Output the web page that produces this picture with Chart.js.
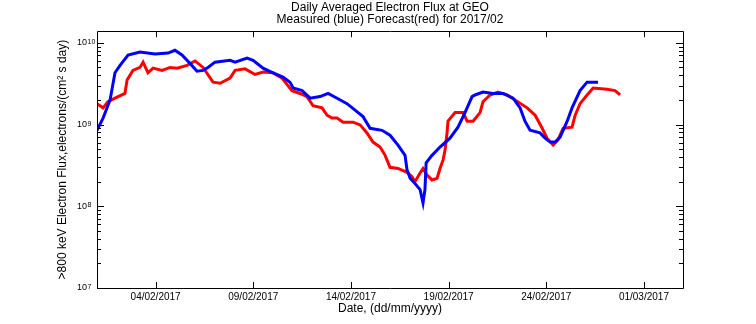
<!DOCTYPE html>
<html>
<head>
<meta charset="utf-8">
<script src="https://cdn.jsdelivr.net/npm/chart.js@4"></script>
<style>
  html, body { margin: 0; padding: 0; background: #fff; }
  #wrap { width: 756px; height: 324px; }
</style>
</head>
<body>
<div id="wrap"><canvas id="flux" width="756" height="324"></canvas></div>
<script>
// days counted from 01/02/2017 00:00
const measuredDays = [0, 0.31, 0.67, 0.92, 1.18, 1.59, 2.20, 2.97, 3.64, 3.99, 4.35, 4.76, 5.12, 5.43, 5.68, 6.04,
  6.81, 7.07, 7.68, 7.99, 8.50, 9.01, 9.52, 9.88, 10.04, 10.50, 10.91, 11.42, 11.83, 12.29, 12.80, 13.21, 13.62,
  13.98, 14.59, 15.00, 15.41, 15.77, 15.87, 16.03, 16.28, 16.54, 16.69, 16.79, 16.85, 17.15, 17.56, 18.07, 18.48,
  18.84, 19.20, 19.35, 19.76, 20.28, 20.79, 21.30, 21.66, 21.91, 22.17, 22.68, 22.94, 23.20, 23.45, 23.71, 24.07,
  24.32, 24.73, 25.09, 25.65];
const measuredFlux = [8.5e8, 1.2e9, 2.0e9, 4.3e9, 5.3e9, 7.1e9, 7.7e9, 7.3e9, 7.5e9, 8.1e9, 7.1e9, 5.6e9, 4.5e9, 4.6e9, 5.0e9, 5.8e9,
  6.1e9, 5.8e9, 6.5e9, 6.1e9, 4.9e9, 4.3e9, 3.8e9, 3.3e9, 2.8e9, 2.6e9, 2.1e9, 2.2e9, 2.4e9, 2.1e9, 1.8e9, 1.5e9, 1.25e9,
  9.0e8, 8.5e8, 7.4e8, 5.6e8, 4.2e8, 2.8e8, 2.2e8, 1.9e8, 1.6e8, 1.1e8, 1.6e8, 3.4e8, 4.2e8, 5.3e8, 6.8e8, 9.3e8,
  1.4e9, 2.2e9, 2.3e9, 2.5e9, 2.4e9, 2.4e9, 2.1e9, 1.6e9, 1.1e9, 8.5e8, 7.9e8, 6.8e8, 6.1e8, 6.1e8, 7.0e8, 1.1e9,
  1.6e9, 2.6e9, 3.3e9, 3.3e9];

const forecastDays = [0, 0.31, 0.56, 0.92, 1.43, 1.54, 1.84, 2.20, 2.36, 2.61, 2.87, 3.33, 3.74, 4.10, 4.61, 5.02,
  5.43, 5.94, 6.30, 6.81, 7.07, 7.58, 8.09, 8.50, 9.01, 9.47, 9.98, 10.39, 10.75, 11.06, 11.52, 11.78, 12.03, 12.29,
  12.60, 13.11, 13.47, 13.82, 14.13, 14.49, 14.75, 15.00, 15.41, 15.87, 16.13, 16.28, 16.54, 16.69, 16.90, 17.15,
  17.41, 17.56, 17.72, 17.82, 17.92, 17.97, 18.33, 18.74, 18.95, 19.25, 19.61, 19.76, 20.12, 20.53, 21.00, 21.40,
  22.02, 22.43, 22.79, 23.04, 23.35, 23.60, 23.86, 24.32, 24.48, 24.73, 25.09, 25.40, 26.11, 26.52, 26.78];
const forecastFlux = [1.8e9, 1.6e9, 1.9e9, 2.1e9, 2.4e9, 3.5e9, 4.6e9, 5.0e9, 5.8e9, 4.3e9, 4.9e9, 4.6e9, 5.0e9, 4.9e9, 5.3e9, 6.0e9,
  5.0e9, 3.3e9, 3.2e9, 3.7e9, 4.6e9, 4.8e9, 4.1e9, 4.4e9, 4.3e9, 3.7e9, 2.6e9, 2.4e9, 2.2e9, 1.7e9, 1.6e9, 1.3e9, 1.2e9, 1.2e9,
  1.07e9, 1.07e9, 9.9e8, 7.9e8, 6.1e8, 5.3e8, 4.2e8, 3.0e8, 2.9e8, 2.6e8, 2.3e8, 2.0e8, 2.55e8, 2.9e8, 2.4e8, 2.1e8,
  2.2e8, 2.9e8, 3.7e8, 4.9e8, 7.9e8, 1.1e9, 1.4e9, 1.4e9, 1.1e9, 1.1e9, 1.4e9, 1.9e9, 2.3e9, 2.5e9, 2.3e9, 2.0e9,
  1.6e9, 1.3e9, 9.0e8, 6.8e8, 5.6e8, 6.5e8, 9.0e8, 9.3e8, 1.3e9, 1.8e9, 2.3e9, 2.8e9, 2.7e9, 2.6e9, 2.3e9];

const dateTickDays = [3, 8, 13, 18, 23, 28];
const dateTickLabels = ['04/02/2017', '09/02/2017', '14/02/2017', '19/02/2017', '24/02/2017', '01/03/2017'];
const fluxTickValues = [1e7, 1e8, 1e9, 1e10];
const fluxTickBase = '10';
const fluxTickExponents = ['7', '8', '9', '10'];
const fluxMinorFactors = [2, 3, 4, 5, 6, 7, 8, 9];

const FONT = '"Liberation Sans", Arial, Helvetica, sans-serif';

function toPoints(xs, ys) {
  return xs.map((d, i) => ({ x: d, y: ys[i] }));
}

// matlab style box with inward ticks on all four sides, plus tick exponents
const boxTicks = {
  id: 'boxTicks',
  afterDatasetsDraw(chart) {
    const { ctx, chartArea: a, scales: { x, y } } = chart;
    ctx.save();
    ctx.strokeStyle = '#000';
    ctx.lineWidth = 1;
    ctx.beginPath();
    ctx.rect(Math.round(a.left) + 0.5, Math.round(a.top) + 0.5,
      Math.round(a.right - a.left), Math.round(a.bottom - a.top));
    dateTickDays.forEach(d => {
      const px = Math.round(x.getPixelForValue(d)) + 0.5;
      ctx.moveTo(px, a.bottom); ctx.lineTo(px, a.bottom - 6);
      ctx.moveTo(px, a.top); ctx.lineTo(px, a.top + 6);
    });
    fluxTickValues.forEach(v => {
      const py = Math.round(y.getPixelForValue(v)) + 0.5;
      ctx.moveTo(a.left, py); ctx.lineTo(a.left + 7, py);
      ctx.moveTo(a.right, py); ctx.lineTo(a.right - 7, py);
      fluxMinorFactors.forEach(f => {
        const val = v * f;
        if (val > y.max) return;
        const pm = Math.round(y.getPixelForValue(val)) + 0.5;
        ctx.moveTo(a.left, pm); ctx.lineTo(a.left + 4, pm);
        ctx.moveTo(a.right, pm); ctx.lineTo(a.right - 4, pm);
      });
    });
    ctx.stroke();

    ctx.fillStyle = '#000';
    ctx.font = '7px ' + FONT;
    ctx.textAlign = 'left';
    ctx.textBaseline = 'alphabetic';
    const ex = y.right - y.options.ticks.padding + 0.5;
    fluxTickValues.forEach((v, i) => {
      ctx.fillText(fluxTickExponents[i], ex, y.getPixelForValue(v) + 1);
    });
    ctx.restore();
  }
};

new Chart(document.getElementById('flux'), {
  type: 'line',
  data: {
    datasets: [{
      label: 'Measured',
      data: toPoints(measuredDays, measuredFlux),
      borderColor: '#0000ff',
      borderWidth: 3,
      pointRadius: 0,
      fill: false
    }, {
      label: 'Forecast',
      data: toPoints(forecastDays, forecastFlux),
      borderColor: '#ff0000',
      borderWidth: 3,
      pointRadius: 0,
      fill: false
    }]
  },
  options: {
    responsive: false,
    animation: false,
    devicePixelRatio: 1,
    layout: { padding: { left: 0, right: 73, top: 0, bottom: 0 } },
    plugins: {
      legend: { display: false },
      tooltip: { enabled: false },
      title: {
        display: true,
        fullSize: false,
        text: ['Daily Averaged Electron Flux at GEO', 'Measured (blue) Forecast(red) for 2017/02'],
        color: '#000',
        font: { family: FONT, size: 12, weight: 'normal', lineHeight: 1.05 },
        padding: { top: 1, bottom: 5 }
      }
    },
    scales: {
      x: {
        type: 'linear',
        min: 0,
        max: 30,
        grid: { display: false, drawTicks: false },
        border: { display: false },
        afterBuildTicks: s => { s.ticks = dateTickDays.map(v => ({ value: v })); },
        afterFit: s => { s.height = 36; },
        ticks: {
          autoSkip: false,
          maxRotation: 0,
          padding: 3,
          color: '#000',
          font: { family: FONT, size: 10 },
          callback: v => dateTickLabels[dateTickDays.indexOf(v)]
        },
        title: {
          display: true,
          text: 'Date, (dd/mm/yyyy)',
          color: '#000',
          font: { family: FONT, size: 12 },
          padding: { top: 0, bottom: 8 }
        }
      },
      y: {
        type: 'logarithmic',
        min: 1e7,
        max: 1.387e10,
        grid: { display: false, drawTicks: false },
        border: { display: false },
        afterBuildTicks: s => { s.ticks = fluxTickValues.map(v => ({ value: v })); },
        afterFit: s => { s.width = 97; },
        ticks: {
          autoSkip: false,
          padding: 10,
          color: '#000',
          font: { family: FONT, size: 9 },
          callback: () => fluxTickBase
        },
        title: {
          display: true,
          text: '>800 keV Electron Flux,electrons/(cm\u00B2 s day)',
          color: '#000',
          font: { family: FONT, size: 12 },
          padding: { top: 55, bottom: 0 }
        }
      }
    }
  },
  plugins: [boxTicks]
});
</script>
</body>
</html>
